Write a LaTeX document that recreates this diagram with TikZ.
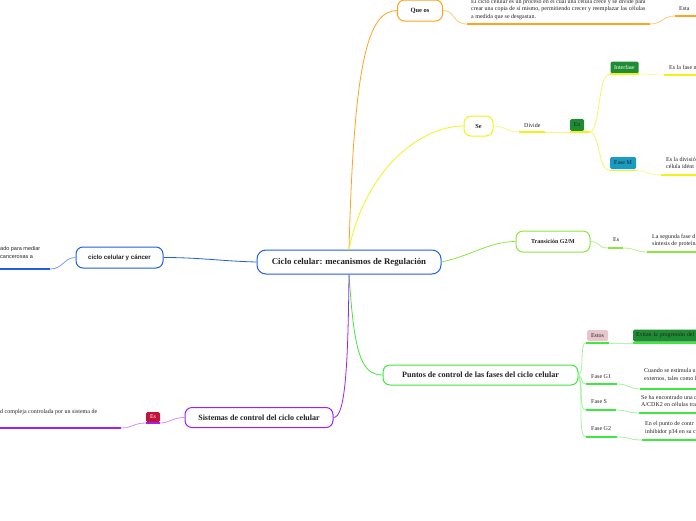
\documentclass[tikz,border=0pt]{standalone}
\usepackage{fontspec}
\setmainfont{Liberation Serif}
\newfontfamily\sansf{Liberation Sans}
\definecolor{corange}{HTML}{FFA41C}
\definecolor{cyellow}{HTML}{F2F21A}
\definecolor{clime}{HTML}{8CE63C}
\definecolor{cgreen}{HTML}{3EE83E}
\definecolor{cblue}{HTML}{2060E0}
\definecolor{cpurple}{HTML}{A020F0}
\definecolor{tgreen}{HTML}{1E8C32}
\definecolor{tteal}{HTML}{1A9CC0}
\definecolor{tpink}{HTML}{E8C6CC}
\definecolor{tred}{HTML}{C0143C}
\definecolor{ink}{HTML}{222222}
\begin{document}
\begin{tikzpicture}[x=1pt,y=-1pt,
 topic/.style={draw, fill=white, rounded corners=7pt, line width=1pt, inner sep=0pt, text=ink},
 txt/.style={anchor=west, inner sep=0pt, align=left, text=ink, font=\fontsize{6}{7.8}\selectfont},
 tag/.style={rounded corners=1.5pt, inner sep=0pt, font=\fontsize{5.9}{6.5}\selectfont},
 conn/.style={line width=0.8pt},
 ul/.style={line width=1.7pt}]
\useasboundingbox (0,0) rectangle (696,520);

% root
\node[topic, draw=cblue, rounded corners=9pt, minimum width=184pt, minimum height=24pt,
  font=\fontsize{8.8}{10}\selectfont\bfseries] (root) at (349,262) {Ciclo celular: mecanismos de Regulación};

% main topics
\node[topic, draw=corange, minimum width=45pt, minimum height=21pt, font=\fontsize{6.5}{7}\selectfont\bfseries] (queos) at (420,10.5) {Que os};
\node[topic, draw=cyellow, minimum width=29pt, minimum height=20pt, font=\fontsize{6.2}{7}\selectfont\bfseries] (se) at (478.5,126) {Se};
\node[topic, draw=clime, minimum width=74pt, minimum height=21pt, font=\fontsize{6}{7}\selectfont\bfseries] (trans) at (553,241.5) {Transición G2/M};
\node[topic, draw=cblue, minimum width=87pt, minimum height=21pt, font=\sansf\fontsize{6.2}{7}\selectfont\bfseries] (cancer) at (119.5,257.5) {ciclo celular y cáncer};
\node[topic, draw=cgreen, minimum width=195pt, minimum height=20pt, font=\fontsize{8.1}{9}\selectfont\bfseries] (puntos) at (480.5,375) {Puntos de control de las fases del ciclo celular};
\node[topic, draw=cpurple, minimum width=148pt, minimum height=20pt, font=\fontsize{8}{9}\selectfont\bfseries] (sist) at (259,417.5) {Sistemas de control del ciclo celular};

% root connectors
\draw[conn, corange] (root.north) .. controls (354,60) and (368,11) .. (queos.west);
\draw[conn, cyellow] (root.north) .. controls (365,170) and (420,126) .. (se.west);
\draw[conn, clime] (root.east) .. controls (470,256) and (490,241.5) .. (trans.west);
\draw[conn, cgreen] (root.south) .. controls (354,350) and (360,375) .. (puntos.west);
\draw[conn, cpurple] (root.south) .. controls (348,370) and (345,417.5) .. (sist.east);
\draw[conn, cblue] (root.west) .. controls (220,261) and (200,257.5) .. (cancer.east);

% Que os branch
\coordinate (q1) at (467,24); \coordinate (q2) at (650,24);
\coordinate (q3) at (675,16); \coordinate (q4) at (696,16);
\draw[conn, corange!60] (queos.east) .. controls (456,10.5) and (452,24) .. (q1);
\draw[ul, corange] (q1) -- (q2);
\node[txt] (qtxt) at (471,9.5) {El ciclo celular es un proceso en el cual una célula crece y se divide para\\crear una copia de sí mismo, permitiendo crecer y reemplazar las células\\a medida que se desgastan.};
\draw[conn, corange!60] (q2) .. controls (663,24) and (662,16) .. (q3);
\draw[ul, corange] (q3) -- (q4);
\node[txt] (esta) at (679,9) {Esta};

% Se branch
\coordinate (d1) at (519,132); \coordinate (d2) at (545,132);
\draw[conn, cyellow!60] (se.east) .. controls (507,126) and (505,132) .. (d1);
\draw[ul, cyellow] (d1) -- (d2);
\node[txt] (divide) at (524,125) {Divide};
\node[tag, fill=tgreen, text=ink, minimum width=14pt, minimum height=12pt] (en) at (577,125) {En};
\coordinate (e1) at (570,132); \coordinate (e2) at (589,132);
\draw[conn, cyellow!60] (d2) -- (e1);
\draw[ul, cyellow] (e1) -- (e2);
\node[tag, fill=tgreen, text=white, minimum width=28pt, minimum height=12pt] (interf) at (624.5,67.5) {Interfase};
\coordinate (i1) at (610,74); \coordinate (i2) at (639,74);
\coordinate (i3) at (664,75); \coordinate (i4) at (696,75);
\draw[conn, cyellow!70] (e2) .. controls (601,132) and (597,74) .. (i1);
\draw[ul, cyellow] (i1) -- (i2);
\draw[conn, cyellow!40] (i2) -- (i3);
\draw[ul, cyellow] (i3) -- (i4);
\node[txt] (interftxt) at (669,67) {Es la fase n};
\node[tag, fill=tteal, text=ink, minimum width=26pt, minimum height=12pt] (fasem) at (623,163) {Fase M};
\coordinate (m1) at (610,170.5); \coordinate (m2) at (636,170.5);
\coordinate (m3) at (661,175); \coordinate (m4) at (696,175);
\draw[conn, cyellow!70] (e2) .. controls (601,132) and (597,170.5) .. (m1);
\draw[ul, cyellow] (m1) -- (m2);
\draw[conn, cyellow!50] (m2) .. controls (649,170.5) and (648,175) .. (m3);
\draw[ul, cyellow] (m3) -- (m4);
\node[txt] (fasemtxt) at (666,163) {Es la división\\célula idént};

% Transicion branch
\coordinate (t1) at (608,248); \coordinate (t2) at (623,248);
\coordinate (t3) at (647,252); \coordinate (t4) at (696,252);
\draw[conn, clime!60] (trans.east) .. controls (600,241.5) and (598,248) .. (t1);
\draw[ul, clime] (t1) -- (t2);
\node[txt] (es1) at (613,240) {Es};
\draw[conn, clime!60] (t2) .. controls (636,248) and (635,252) .. (t3);
\draw[ul, clime] (t3) -- (t4);
\node[txt] (transtxt) at (652,240.5) {La segunda fase d\\síntesis de proteína};

% cancer branch
\coordinate (c1) at (50,269); \coordinate (c2) at (0,269);
\draw[conn, cblue!60] (cancer.west) .. controls (64,257.5) and (63,269) .. (c1);
\draw[ul, cblue] (c1) -- (c2);
\node[txt, font=\sansf\fontsize{5.5}{7.5}\selectfont] (cancertxt) at (0,252.5) {ado para mediar\\cancerosas a};

% Puntos branch
\node[tag, fill=tpink, text=ink, minimum width=21pt, minimum height=11pt] (estos) at (597.5,335.5) {Estos};
\coordinate (s1) at (586,343); \coordinate (s2) at (609,343);
\coordinate (s3) at (633,343); \coordinate (s4) at (696,343);
\draw[conn, cgreen!50] (puntos.east) .. controls (585,372) and (579,343) .. (s1);
\draw[ul, cgreen] (s1) -- (s2);
\draw[conn, cgreen!40] (s2) -- (s3);
\draw[ul, cgreen] (s3) -- (s4);
\node[tag, fill=tgreen, text=ink, anchor=west, minimum height=12pt, inner xsep=3pt, text width=75pt, align=left] (evitan) at (633,335.5) {Evitan la progresión del};

\coordinate (g1a) at (586,384); \coordinate (g1b) at (617,384);
\coordinate (g1c) at (640,389); \coordinate (g1d) at (696,389);
\draw[conn, cgreen!50] (puntos.east) .. controls (584,378) and (580,384) .. (g1a);
\draw[ul, cgreen] (g1a) -- (g1b);
\node[txt] (fg1) at (591,376.5) {Fase G1};
\draw[conn, cgreen!50] (g1b) .. controls (630,384) and (628,389) .. (g1c);
\draw[ul, cgreen] (g1c) -- (g1d);
\node[txt] (fg1txt) at (644,375) {Cuando se estimula u\\externos, tales como l};

\coordinate (gsa) at (586,410); \coordinate (gsb) at (616,410);
\coordinate (gsc) at (639,413); \coordinate (gsd) at (696,413);
\draw[conn, cgreen!50] (puntos.east) .. controls (584,385) and (578,410) .. (gsa);
\draw[ul, cgreen] (gsa) -- (gsb);
\node[txt] (fs) at (591,402) {Fase S};
\draw[conn, cgreen!50] (gsb) .. controls (628,410) and (627,413) .. (gsc);
\draw[ul, cgreen] (gsc) -- (gsd);
\node[txt] (fstxt) at (641,401) {Se ha encontrado una c\\A/CDK2 en células tra};

\coordinate (g2a) at (586,437); \coordinate (g2b) at (617,437);
\coordinate (g2c) at (642,440); \coordinate (g2d) at (696,440);
\draw[conn, cgreen!50] (puntos.east) .. controls (584,390) and (577,437) .. (g2a);
\draw[ul, cgreen] (g2a) -- (g2b);
\node[txt] (fg2) at (591,429) {Fase G2};
\draw[conn, cgreen!50] (g2b) .. controls (630,437) and (629,440) .. (g2c);
\draw[ul, cgreen] (g2c) -- (g2d);
\node[txt] (fg2txt) at (645,428) {En el punto de contr\\inhibidor p34 en su c};

% Sistemas branch
\node[tag, fill=tred, text=white, minimum width=14pt, minimum height=10pt] (es2) at (153,417) {Es};
\coordinate (r1) at (160,423); \coordinate (r2) at (146,423);
\coordinate (r3) at (121,428); \coordinate (r4) at (0,428);
\draw[conn, cpurple!50] (sist.west) .. controls (172,417.5) and (170,423) .. (r1);
\draw[ul, cpurple] (r1) -- (r2);
\draw[conn, cpurple!50] (r2) .. controls (133,423) and (133,428) .. (r3);
\draw[ul, cpurple] (r3) -- (r4);
\node[txt] (sisttxt) at (0,412) {d compleja controlada por un sistema de};
\end{tikzpicture}
\end{document}
